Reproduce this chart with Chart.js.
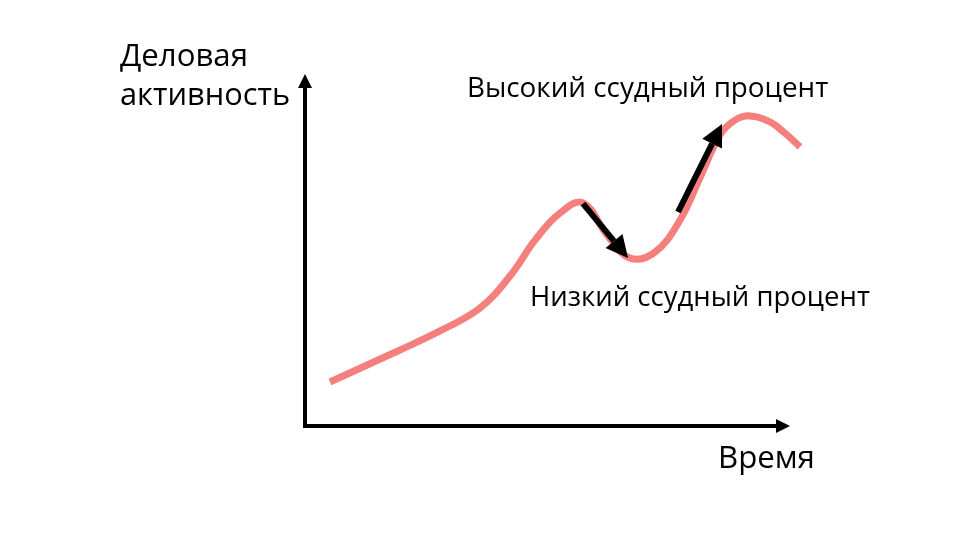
<!DOCTYPE html>
<html>
<head>
<meta charset="utf-8">
<script src="https://cdn.jsdelivr.net/npm/chart.js@4.4.0/dist/chart.umd.min.js"></script>
<style>
  html, body { margin: 0; padding: 0; background: #fff; }
  #c { display: block; }
</style>
</head>
<body>
<canvas id="c" width="960" height="540"></canvas>
<script>
// Business activity over time (arbitrary units)
const timeValues = [5, 19, 27, 35, 41, 46, 51, 55.6, 60.4, 65, 70, 75, 79, 83, 86, 89, 93, 96, 99];
const activityValues = [12.5, 21.6, 27.0, 33.5, 42.6, 52.8, 60.5, 63.4, 54.3, 47.7, 49.4, 58.5, 70.5, 82.7, 86.9, 88.1, 86.4, 83.2, 79.3];

// arrows: [fromX, fromY, toX, toY]
const arrowLow = [55.6, 63.2, 64.6, 47.7];
const arrowHigh = [74.6, 60.8, 83.4, 85.8];

const axisEndX = 97;
const axisEndY = 100;

const yTitle = ['Деловая', 'активность'];
const xTitle = 'Время';
const highLabel = 'Высокий ссудный процент';
const lowLabel = 'Низкий ссудный процент';

const FONT = '"Open Sans", "Noto Sans", sans-serif';

function arrow(ctx, x1, y1, x2, y2, width, head) {
    const a = Math.atan2(y2 - y1, x2 - x1);
    const bx = x2 - head * Math.cos(a);
    const by = y2 - head * Math.sin(a);
    ctx.beginPath();
    ctx.moveTo(x1, y1);
    ctx.lineTo(bx, by);
    ctx.lineWidth = width;
    ctx.strokeStyle = '#000';
    ctx.stroke();
    ctx.beginPath();
    ctx.moveTo(x2, y2);
    ctx.lineTo(bx + head * 0.5 * Math.sin(a), by - head * 0.5 * Math.cos(a));
    ctx.lineTo(bx - head * 0.5 * Math.sin(a), by + head * 0.5 * Math.cos(a));
    ctx.closePath();
    ctx.fillStyle = '#000';
    ctx.fill();
}

// draw text scaled so it spans the given width
function fitText(ctx, text, x, y, width) {
    ctx.font = '20px ' + FONT;
    const size = 20 * width / ctx.measureText(text).width;
    ctx.font = size.toFixed(1) + 'px ' + FONT;
    ctx.fillText(text, x, y);
}

const decorations = {
    id: 'decorations',
    beforeDatasetsDraw(chart) {
        const ctx = chart.ctx;
        const xs = chart.scales.x, ys = chart.scales.y;
        const x0 = xs.getPixelForValue(0), y0 = ys.getPixelForValue(0);
        ctx.save();
        // axes
        arrow(ctx, x0, y0 + 2, x0, ys.getPixelForValue(axisEndY), 4, 14);
        arrow(ctx, x0 - 2, y0, xs.getPixelForValue(axisEndX), y0, 4, 14);
        ctx.restore();
    },
    afterDatasetsDraw(chart) {
        const ctx = chart.ctx;
        const xs = chart.scales.x, ys = chart.scales.y;
        const px = v => xs.getPixelForValue(v), py = v => ys.getPixelForValue(v);
        ctx.save();
        arrow(ctx, px(arrowLow[0]), py(arrowLow[1]), px(arrowLow[2]), py(arrowLow[3]), 6, 22);
        arrow(ctx, px(arrowHigh[0]), py(arrowHigh[1]), px(arrowHigh[2]), py(arrowHigh[3]), 6, 22);

        ctx.fillStyle = '#000';
        ctx.textBaseline = 'middle';
        ctx.textAlign = 'left';
        fitText(ctx, yTitle[0], 120, 57, 128);
        fitText(ctx, yTitle[1], 120, 96, 170);
        fitText(ctx, highLabel, 467, 89, 361);
        fitText(ctx, lowLabel, 530, 298, 340);
        fitText(ctx, xTitle, 718, 459, 97);
        ctx.restore();
    }
};

new Chart(document.getElementById('c'), {
    type: 'line',
    data: {
        datasets: [{
            data: timeValues.map((t, i) => ({ x: t, y: activityValues[i] })),
            borderColor: '#f47f7d',
            borderWidth: 7,
            pointRadius: 0,
            tension: 0.4,
            borderCapStyle: 'butt',
            fill: false
        }]
    },
    options: {
        responsive: false,
        animation: false,
        layout: { padding: { left: 305, right: 155, top: 74, bottom: 114 } },
        scales: {
            x: { type: 'linear', min: 0, max: 100, display: false },
            y: { type: 'linear', min: 0, max: 100, display: false }
        },
        plugins: {
            legend: { display: false },
            tooltip: { enabled: false }
        }
    },
    plugins: [decorations]
});
</script>
</body>
</html>
